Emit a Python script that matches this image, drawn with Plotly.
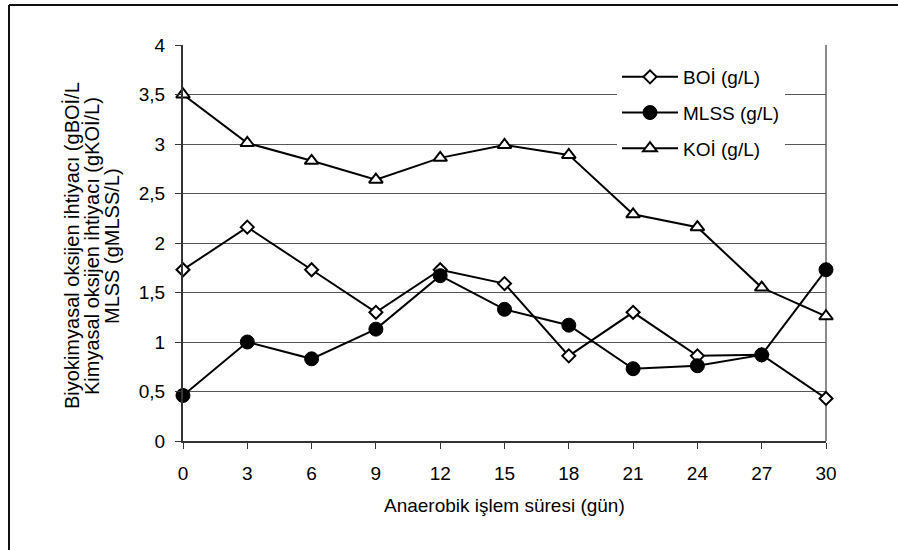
import plotly.graph_objects as go

# Sampling days and measured concentrations (g/L)
days = [0, 3, 6, 9, 12, 15, 18, 21, 24, 27, 30]
boi = [1.73, 2.16, 1.73, 1.30, 1.73, 1.59, 0.86, 1.30, 0.86, 0.87, 0.43]
mlss = [0.46, 1.00, 0.83, 1.13, 1.67, 1.33, 1.17, 0.73, 0.76, 0.87, 1.73]
koi = [3.50, 3.01, 2.83, 2.64, 2.86, 2.99, 2.89, 2.29, 2.16, 1.55, 1.26]

series_names = ["BOİ (g/L)", "MLSS (g/L)", "KOİ (g/L)"]
y_tickvals = [0, 0.5, 1, 1.5, 2, 2.5, 3, 3.5, 4]
y_ticktext = ["0", "0,5", "1", "1,5", "2", "2,5", "3", "3,5", "4"]
x_tickvals = days
y_title_lines = [
    "Biyokimyasal oksijen ihtiyacı (gBOİ/L",
    "Kimyasal oksijen ihtiyacı (gKOİ/L)",
    "MLSS (gMLSS/L)",
]
x_title = "Anaerobik işlem süresi (gün)"

W, H = 898, 550
L, R, T, B = 183, 72, 45, 109
PW, PH = W - L - R, H - T - B


def px_x(p):
    return (p - L) / PW


def px_y(p):
    return (H - B - p) / PH


FONT = "Liberation Sans, Arial, sans-serif"

fig = go.Figure()

fig.add_trace(go.Scatter(
    x=days, y=boi, name=series_names[0], mode="lines+markers", legendgroup="a",
    cliponaxis=False,
    line=dict(color="black", width=2),
    marker=dict(symbol="diamond", size=10, color="white", line=dict(color="black", width=2)),
))
fig.add_trace(go.Scatter(
    x=days, y=mlss, name=series_names[1], mode="lines+markers", legendgroup="b",
    cliponaxis=False,
    line=dict(color="black", width=2),
    marker=dict(symbol="circle", size=14, color="black", line=dict(color="black", width=1)),
))
fig.add_trace(go.Scatter(
    x=days, y=koi, name=series_names[2], mode="lines+markers", legendgroup="c",
    cliponaxis=False,
    line=dict(color="black", width=2),
    marker=dict(symbol="triangle-up", size=12, color="white", line=dict(color="black", width=2)),
))

# Multi-line vertical axis title
for line_text, xc in zip(y_title_lines, [72, 92, 112]):
    fig.add_annotation(
        text=line_text, textangle=-90, showarrow=False,
        xref="paper", yref="paper", x=px_x(xc), y=px_y(246),
        xanchor="center", yanchor="middle",
        font=dict(family=FONT, size=20, color="black"),
    )

fig.add_annotation(
    text=x_title, showarrow=False, xref="paper", yref="paper",
    x=0.5, y=px_y(505), xanchor="center", yanchor="middle",
    font=dict(family=FONT, size=19, color="black"),
)

shapes = [
    # right edge of the plot frame
    dict(type="line", xref="paper", yref="paper", x0=1, x1=1, y0=0, y1=1,
         line=dict(color="#8a8a8a", width=2), layer="below"),
    # outer chart border (top and left)
    dict(type="line", xref="paper", yref="paper", x0=px_x(9), x1=px_x(W + 2),
         y0=px_y(5), y1=px_y(5), line=dict(color="#111", width=2)),
    dict(type="line", xref="paper", yref="paper", x0=px_x(9), x1=px_x(9),
         y0=px_y(5), y1=px_y(H + 2), line=dict(color="#111", width=2)),
]

fig.update_layout(
    width=W, height=H,
    margin=dict(l=L, r=R, t=T, b=B, pad=0),
    paper_bgcolor="white", plot_bgcolor="white",
    font=dict(family=FONT, size=19, color="black"),
    shapes=shapes,
    showlegend=True,
    legend=dict(
        x=px_x(617), y=px_y(58), xanchor="left", yanchor="top",
        bgcolor="white", borderwidth=0, itemwidth=56,
        tracegroupgap=8,
        font=dict(family=FONT, size=19, color="black"),
    ),
    xaxis=dict(
        range=[0, 30], tickvals=x_tickvals, showgrid=False, zeroline=False,
        showline=True, linecolor="#333", linewidth=2,
        ticks="outside", ticklen=6, tickcolor="#333", tickwidth=1,
        tickfont=dict(family=FONT, size=19), ticklabelstandoff=8,
    ),
    yaxis=dict(
        range=[0, 4], tickvals=y_tickvals, ticktext=y_ticktext,
        showgrid=True, gridcolor="#555", gridwidth=1, zeroline=False,
        showline=True, linecolor="#333", linewidth=2,
        ticks="outside", ticklen=6, tickcolor="#333", tickwidth=1,
        tickfont=dict(family=FONT, size=19), ticklabelstandoff=6,
    ),
)

fig.write_html("out.html")
